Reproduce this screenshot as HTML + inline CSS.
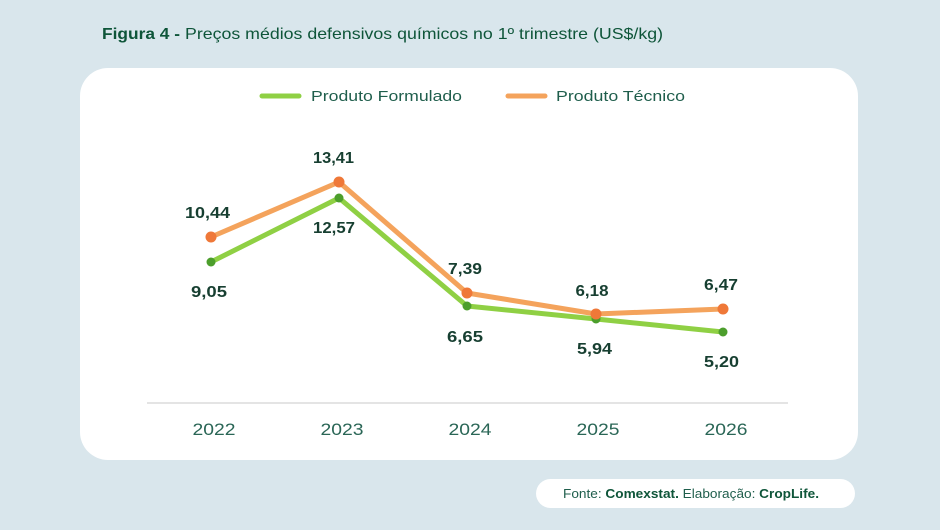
<!DOCTYPE html>
<html>
<head>
<meta charset="utf-8">
<style>
  html,body{margin:0;padding:0;background:#d9e6ec;}
  svg{display:block;}
  text{font-family:"Liberation Sans",sans-serif;}
</style>
</head>
<body>
<svg width="940" height="530" viewBox="0 0 940 530" xmlns="http://www.w3.org/2000/svg">
  <rect x="0" y="0" width="940" height="530" fill="#d9e6ec"/>
  <!-- Title -->
  <text x="102" y="39" font-size="16" font-weight="bold" fill="#0e5539" textLength="78" lengthAdjust="spacingAndGlyphs">Figura 4 -</text>
  <text x="185" y="39" font-size="16" fill="#0e5539" textLength="478" lengthAdjust="spacingAndGlyphs">Preços médios defensivos químicos no 1º trimestre (US$/kg)</text>

  <!-- Card -->
  <rect x="80" y="68" width="778" height="392" rx="28" ry="28" fill="#ffffff"/>

  <!-- Legend -->
  <line x1="262" y1="96" x2="299" y2="96" stroke="#8fd044" stroke-width="5" stroke-linecap="round"/>
  <text x="311" y="101" font-size="15" fill="#1f5e4c" textLength="151" lengthAdjust="spacingAndGlyphs">Produto Formulado</text>
  <line x1="508" y1="96" x2="545" y2="96" stroke="#f4a35c" stroke-width="5" stroke-linecap="round"/>
  <text x="556" y="101" font-size="15" fill="#1f5e4c" textLength="129" lengthAdjust="spacingAndGlyphs">Produto Técnico</text>

  <!-- Axis -->
  <line x1="147" y1="403" x2="788" y2="403" stroke="#dcdcdc" stroke-width="1.5"/>
  <g font-size="17" fill="#2a6656" text-anchor="middle">
    <text x="214" y="435" textLength="43" lengthAdjust="spacingAndGlyphs">2022</text>
    <text x="342" y="435" textLength="43" lengthAdjust="spacingAndGlyphs">2023</text>
    <text x="470" y="435" textLength="43" lengthAdjust="spacingAndGlyphs">2024</text>
    <text x="598" y="435" textLength="43" lengthAdjust="spacingAndGlyphs">2025</text>
    <text x="726" y="435" textLength="43" lengthAdjust="spacingAndGlyphs">2026</text>
  </g>

  <!-- Series lines -->
  <polyline points="211,262 339,198 467,306 596,319 723,332" fill="none" stroke="#8fd044" stroke-width="5" stroke-linejoin="round" stroke-linecap="round"/>
  <polyline points="211,237 339,182 467,293 596,314 723,309" fill="none" stroke="#f4a35c" stroke-width="5" stroke-linejoin="round" stroke-linecap="round"/>

  <!-- Points -->
  <g fill="#4c9e2c">
    <circle cx="211" cy="262" r="4.5"/>
    <circle cx="339" cy="198" r="4.5"/>
    <circle cx="467" cy="306" r="4.5"/>
    <circle cx="596" cy="319" r="4.5"/>
    <circle cx="723" cy="332" r="4.5"/>
  </g>
  <g fill="#ef7838">
    <circle cx="211" cy="237" r="5.5"/>
    <circle cx="339" cy="182" r="5.5"/>
    <circle cx="467" cy="293" r="5.5"/>
    <circle cx="596" cy="314" r="5.5"/>
    <circle cx="723" cy="309" r="5.5"/>
  </g>

  <!-- Data labels -->
  <g font-size="16" font-weight="bold" fill="#173f31" text-anchor="middle">
    <text x="207.5" y="218" textLength="45" lengthAdjust="spacingAndGlyphs">10,44</text>
    <text x="209" y="297" textLength="36" lengthAdjust="spacingAndGlyphs">9,05</text>
    <text x="333.5" y="163" textLength="41" lengthAdjust="spacingAndGlyphs">13,41</text>
    <text x="334" y="233" textLength="42" lengthAdjust="spacingAndGlyphs">12,57</text>
    <text x="465" y="274" textLength="34" lengthAdjust="spacingAndGlyphs">7,39</text>
    <text x="465" y="342" textLength="36" lengthAdjust="spacingAndGlyphs">6,65</text>
    <text x="592" y="296" textLength="33" lengthAdjust="spacingAndGlyphs">6,18</text>
    <text x="594.5" y="354" textLength="35" lengthAdjust="spacingAndGlyphs">5,94</text>
    <text x="721" y="290" textLength="34" lengthAdjust="spacingAndGlyphs">6,47</text>
    <text x="721.5" y="367" textLength="35" lengthAdjust="spacingAndGlyphs">5,20</text>
  </g>

  <!-- Footer pill -->
  <rect x="536" y="479" width="319" height="29" rx="14.5" ry="14.5" fill="#ffffff"/>
  <text x="563" y="498" font-size="13" fill="#1f5e4c" textLength="256" lengthAdjust="spacingAndGlyphs">Fonte: <tspan font-weight="bold" fill="#0e5539">Comexstat.</tspan> Elaboração: <tspan font-weight="bold" fill="#0e5539">CropLife.</tspan></text>
</svg>
</body>
</html>
